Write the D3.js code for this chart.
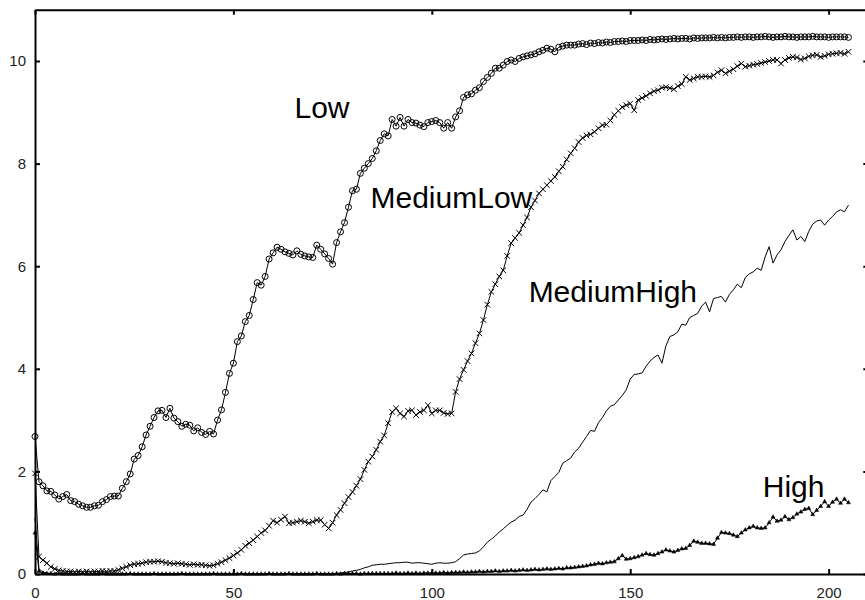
<!DOCTYPE html>
<html>
<head>
<meta charset="utf-8">
<script src="https://cdn.jsdelivr.net/npm/d3@7"></script>
<style>
  html, body { margin: 0; padding: 0; background: #fff; }
  svg { display: block; }
</style>
</head>
<body>
<svg id="chart" width="865" height="600"></svg>
<script>
// ---------------- data ----------------
const steps = d3.range(0, 206);

const low = [2.68,1.80,1.72,1.62,1.61,1.54,1.46,1.51,1.55,1.43,
 1.41,1.36,1.33,1.30,1.30,1.33,1.34,1.41,1.45,1.51,
 1.52,1.52,1.67,1.80,1.95,2.24,2.31,2.48,2.71,2.88,
 3.05,3.18,3.19,3.05,3.23,3.04,2.97,2.88,2.92,2.90,
 2.79,2.85,2.76,2.72,2.78,2.73,3.00,3.20,3.54,3.91,
 4.11,4.53,4.64,4.92,5.04,5.35,5.68,5.63,5.80,6.14,
 6.26,6.37,6.33,6.28,6.25,6.22,6.30,6.23,6.20,6.18,
 6.17,6.41,6.33,6.24,6.15,6.04,6.46,6.67,6.85,7.15,
 7.47,7.50,7.81,7.91,8.00,8.10,8.25,8.45,8.58,8.54,
 8.86,8.73,8.90,8.73,8.86,8.80,8.79,8.75,8.72,8.80,
 8.82,8.84,8.80,8.69,8.80,8.69,8.91,9.03,9.29,9.34,
 9.36,9.43,9.48,9.60,9.68,9.76,9.86,9.86,9.92,9.99,
 10.02,9.99,10.05,10.08,10.10,10.12,10.14,10.18,10.21,10.25,
 10.23,10.18,10.27,10.29,10.31,10.31,10.31,10.33,10.34,10.32,
 10.35,10.34,10.36,10.35,10.37,10.36,10.38,10.38,10.39,10.38,
 10.40,10.40,10.40,10.41,10.40,10.42,10.41,10.42,10.43,10.42,
 10.43,10.44,10.43,10.44,10.44,10.43,10.45,10.44,10.45,10.45,
 10.45,10.46,10.45,10.46,10.45,10.46,10.46,10.47,10.46,10.47,
 10.47,10.46,10.47,10.47,10.48,10.47,10.46,10.47,10.47,10.48,
 10.47,10.47,10.46,10.47,10.47,10.47,10.48,10.47,10.47,10.47,
 10.46,10.47,10.47,10.47,10.47,10.46];

const mediumLow = [1.96,0.34,0.27,0.21,0.14,0.10,0.07,0.06,0.05,0.05,
 0.04,0.05,0.04,0.05,0.04,0.05,0.05,0.06,0.05,0.06,
 0.06,0.08,0.11,0.14,0.17,0.19,0.20,0.21,0.23,0.24,
 0.24,0.25,0.24,0.22,0.21,0.20,0.21,0.20,0.19,0.18,
 0.19,0.18,0.18,0.17,0.16,0.17,0.20,0.23,0.27,0.31,
 0.36,0.41,0.47,0.55,0.60,0.66,0.73,0.80,0.85,0.94,
 1.04,1.00,1.06,1.12,0.99,1.00,1.02,1.04,1.02,0.99,
 1.02,1.05,1.05,0.96,0.89,1.00,1.15,1.25,1.38,1.50,
 1.60,1.72,1.85,2.03,2.19,2.29,2.42,2.58,2.70,2.94,
 3.16,3.23,3.13,3.07,3.18,3.19,3.10,3.16,3.19,3.29,
 3.13,3.19,3.19,3.14,3.12,3.13,3.55,3.80,3.98,4.15,
 4.30,4.50,4.69,4.95,5.25,5.50,5.65,5.80,5.92,6.20,
 6.45,6.55,6.65,6.80,6.95,7.15,7.28,7.42,7.50,7.58,
 7.66,7.74,7.85,7.94,8.08,8.20,8.30,8.42,8.50,8.55,
 8.57,8.62,8.69,8.75,8.76,8.84,8.95,9.03,9.10,9.14,
 9.17,9.04,9.24,9.28,9.32,9.37,9.41,9.43,9.48,9.49,
 9.47,9.45,9.51,9.55,9.69,9.63,9.66,9.69,9.69,9.70,
 9.69,9.72,9.78,9.82,9.76,9.80,9.84,9.90,9.95,9.89,
 9.91,9.93,9.94,9.96,9.98,10.00,10.02,10.02,9.95,10.02,
 10.06,10.08,10.07,10.03,10.05,10.09,10.11,10.12,10.08,10.10,
 10.13,10.14,10.15,10.16,10.14,10.18];

const mediumHigh = [1.10,0.10,0.04,0.02,0.01,0.01,0.00,0.01,0.00,0.00,
 0.00,0.01,0.00,0.00,0.00,0.00,0.01,0.00,0.00,0.00,
 0.00,0.00,0.01,0.00,0.00,0.00,0.00,0.00,0.01,0.00,
 0.00,0.00,0.00,0.00,0.00,0.01,0.00,0.00,0.00,0.00,
 0.00,0.00,0.00,0.01,0.00,0.00,0.00,0.00,0.00,0.00,
 0.00,0.01,0.00,0.00,0.00,0.00,0.00,0.00,0.00,0.01,
 0.00,0.00,0.00,0.00,0.00,0.00,0.00,0.01,0.00,0.00,
 0.00,0.00,0.00,0.00,0.01,0.00,0.01,0.02,0.03,0.04,
 0.06,0.07,0.09,0.12,0.14,0.17,0.18,0.19,0.19,0.20,
 0.21,0.22,0.22,0.23,0.23,0.21,0.22,0.22,0.21,0.20,
 0.19,0.21,0.22,0.21,0.21,0.22,0.24,0.30,0.37,0.39,
 0.40,0.41,0.45,0.53,0.62,0.68,0.74,0.82,0.88,0.95,
 1.01,1.05,1.12,1.15,1.26,1.40,1.47,1.55,1.64,1.60,
 1.82,1.90,1.98,2.16,2.21,2.26,2.38,2.45,2.57,2.68,
 2.80,2.78,2.95,3.05,3.18,3.27,3.30,3.39,3.48,3.59,
 3.80,3.89,3.90,3.92,4.05,4.15,4.22,4.27,4.11,4.45,
 4.63,4.66,4.72,4.87,4.85,5.00,5.04,5.08,5.22,5.30,
 5.11,5.37,5.39,5.41,5.30,5.45,5.54,5.65,5.58,5.78,
 5.85,5.89,5.96,5.92,6.18,6.38,6.06,6.22,6.32,6.48,
 6.60,6.71,6.51,6.58,6.48,6.68,6.82,6.88,6.90,6.80,
 6.90,6.97,7.06,7.10,7.06,7.19];

const high = [0.80,0.05,0.02,0.01,0.01,0.00,0.01,0.00,0.00,0.00,
 0.00,0.00,0.01,0.00,0.00,0.00,0.00,0.01,0.00,0.00,
 0.00,0.00,0.00,0.00,0.01,0.00,0.00,0.00,0.00,0.00,
 0.01,0.00,0.00,0.00,0.00,0.00,0.00,0.01,0.00,0.00,
 0.00,0.00,0.00,0.00,0.00,0.01,0.00,0.00,0.00,0.00,
 0.00,0.00,0.01,0.00,0.00,0.00,0.00,0.00,0.00,0.01,
 0.00,0.00,0.00,0.00,0.01,0.00,0.00,0.00,0.00,0.00,
 0.00,0.01,0.00,0.00,0.00,0.00,0.01,0.00,0.01,0.01,
 0.01,0.01,0.00,0.01,0.01,0.01,0.01,0.01,0.01,0.01,
 0.01,0.02,0.01,0.01,0.02,0.01,0.02,0.01,0.02,0.02,
 0.02,0.02,0.02,0.03,0.02,0.03,0.03,0.03,0.04,0.03,
 0.04,0.04,0.05,0.04,0.05,0.05,0.06,0.05,0.06,0.06,
 0.07,0.06,0.07,0.08,0.07,0.08,0.09,0.08,0.09,0.10,
 0.09,0.10,0.11,0.10,0.12,0.12,0.13,0.14,0.15,0.16,
 0.18,0.19,0.21,0.20,0.22,0.23,0.24,0.30,0.36,0.29,
 0.30,0.32,0.34,0.37,0.40,0.38,0.37,0.40,0.43,0.47,
 0.45,0.43,0.46,0.49,0.50,0.56,0.64,0.62,0.60,0.60,
 0.59,0.58,0.70,0.81,0.80,0.79,0.76,0.73,0.80,0.86,
 0.90,0.93,0.90,0.89,0.90,1.00,1.11,1.03,1.05,1.12,
 1.06,1.10,1.17,1.21,1.26,1.28,1.16,1.24,1.32,1.41,
 1.32,1.40,1.46,1.38,1.46,1.39];

const seriesNames = ["Low", "MediumLow", "MediumHigh", "High"];
const xTicks = [0, 50, 100, 150, 200];
const yTicks = [0, 2, 4, 6, 8, 10];
const xDomain = [0, 210];
const yDomain = [0, 11];

// ---------------- layout ----------------
const plot = { left: 35, right: 868.3, top: 9.7, bottom: 574 };
// label anchor points in data units (x, y of baseline start)
const labelAnchor = { Low: [65.4, 8.89], MediumLow: [84.55, 7.13], MediumHigh: [124.4, 5.30], High: [183.4, 1.50] };

const svg = d3.select("#chart");
svg.append("rect").attr("width", 865).attr("height", 600).attr("fill", "#fff");

const x = d3.scaleLinear().domain(xDomain).range([plot.left, plot.right]);
const y = d3.scaleLinear().domain(yDomain).range([plot.bottom, plot.top]);

const tickFont = "'Liberation Sans', Arial, sans-serif";

function styleAxis(g) {
  g.selectAll("path.domain").attr("stroke", "#000").attr("stroke-width", 2);
  g.selectAll(".tick line").attr("stroke", "#000").attr("stroke-width", 2);
  g.selectAll(".tick text").attr("fill", "#222").style("font-family", tickFont).style("font-size", "15px");
}

svg.append("g").attr("transform", `translate(0,${plot.bottom})`)
  .call(d3.axisBottom(x).tickValues(xTicks).tickSize(-5).tickSizeOuter(0).tickPadding(13).tickFormat(d3.format("d")))
  .call(styleAxis);
svg.append("g").attr("transform", `translate(0,${plot.top})`)
  .call(d3.axisTop(x).tickValues(xTicks).tickSize(-5).tickSizeOuter(0).tickFormat(""))
  .call(styleAxis);
svg.append("g").attr("transform", `translate(${plot.left},0)`)
  .call(d3.axisLeft(y).tickValues(yTicks).tickSize(-5).tickSizeOuter(0).tickPadding(9).tickFormat(d3.format("d")))
  .call(styleAxis);
svg.append("g").attr("transform", `translate(${plot.right},0)`)
  .call(d3.axisRight(y).tickValues(yTicks).tickSize(-5).tickSizeOuter(0).tickFormat(""))
  .call(styleAxis);
svg.selectAll("text").attr("font-family", null);

// ---------------- series ----------------
const toPts = arr => steps.map((s, i) => ({ x: s, y: arr[i] }));
const line = d3.line().x(d => x(d.x)).y(d => y(d.y));

const allSeries = [
  { name: seriesNames[0], pts: toPts(low), marker: "circle" },
  { name: seriesNames[1], pts: toPts(mediumLow), marker: "x" },
  { name: seriesNames[2], pts: toPts(mediumHigh), marker: "none" },
  { name: seriesNames[3], pts: toPts(high), marker: "triangle" }
];

const gS = svg.append("g");
allSeries.forEach(s => {
  const g = gS.append("g");
  g.append("path").datum(s.pts).attr("d", line)
    .attr("fill", "none").attr("stroke", "#000").attr("stroke-width", 1);
  if (s.marker === "circle") {
    g.selectAll("circle").data(s.pts).join("circle")
      .attr("cx", d => x(d.x)).attr("cy", d => y(d.y)).attr("r", 3)
      .attr("fill", "none").attr("stroke", "#000").attr("stroke-width", 1);
  } else if (s.marker === "x") {
    const k = 2.8;
    g.selectAll("path.m").data(s.pts).join("path").attr("class", "m")
      .attr("d", d => {
        const cx = x(d.x), cy = y(d.y);
        return `M${cx - k},${cy - k}L${cx + k},${cy + k}M${cx - k},${cy + k}L${cx + k},${cy - k}`;
      })
      .attr("fill", "none").attr("stroke", "#000").attr("stroke-width", 1);
  } else if (s.marker === "triangle") {
    const sym = d3.symbol(d3.symbolTriangle, 7);
    g.selectAll("path.m").data(s.pts).join("path").attr("class", "m")
      .attr("d", sym)
      .attr("transform", d => `translate(${x(d.x)},${y(d.y)})`)
      .attr("fill", "#000").attr("stroke", "#000").attr("stroke-width", 0.5);
  }
});

// ---------------- labels ----------------
svg.append("g").selectAll("text").data(seriesNames).join("text")
  .attr("x", d => x(labelAnchor[d][0]))
  .attr("y", d => y(labelAnchor[d][1]))
  .attr("fill", "#000")
  .style("font-family", tickFont)
  .style("font-size", "30px")
  .text(d => d);
</script>
</body>
</html>
